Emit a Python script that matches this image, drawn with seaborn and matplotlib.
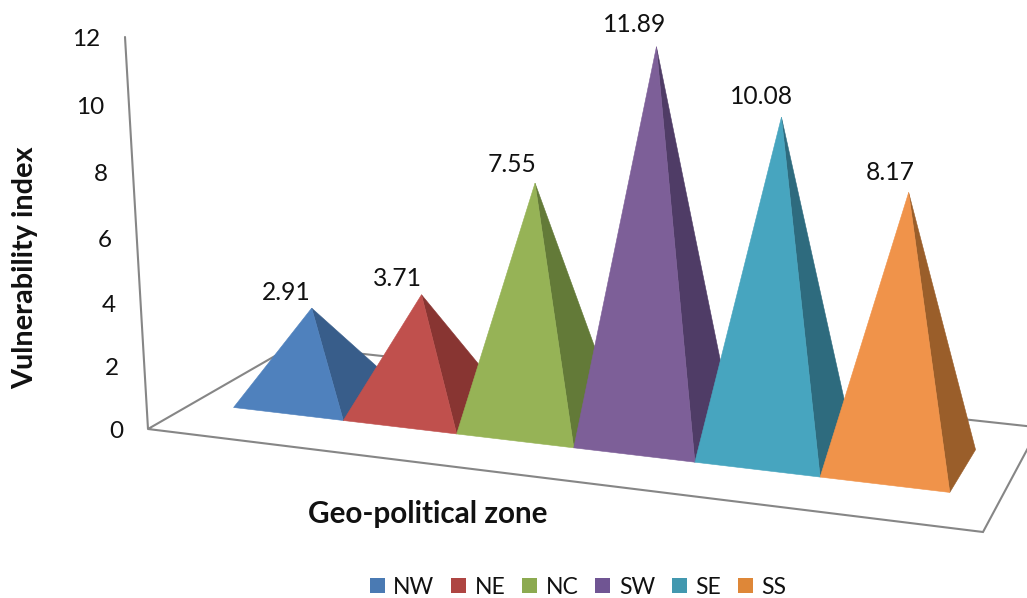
import numpy as np
import matplotlib
matplotlib.use("Agg")
import matplotlib.pyplot as plt
from matplotlib.patches import Patch, Polygon
import seaborn as sns

# Chart data
zones = ["NW", "NE", "NC", "SW", "SE", "SS"]
vulnerability = [2.91, 3.71, 7.55, 11.89, 10.08, 8.17]
y_ticks = [0, 2, 4, 6, 8, 10, 12]

# Face colours: lit front face, shaded side face, legend swatch
front_colours = ["#4F81BD", "#C0504D", "#96B356", "#7D5F98", "#47A5BF", "#F0934A"]
side_colours = ["#385D8A", "#883532", "#637A38", "#4F3C66", "#2E6B7E", "#9A5E2A"]
legend_colours = ["#4A7AB3", "#AE4542", "#8CAA50", "#705593", "#4298AF", "#DE8738"]
frame_colour = "#868686"

sns.set_theme(style="white")
plt.rcParams["font.family"] = ["Lato", "DejaVu Sans"]

# Pinhole camera for the 3D frame: world (u, d, z) with u, d in 0..1 on the
# floor and z in value units, to pixels on the 1027x598 canvas.
FLOOR_G, FLOOR_H = -0.1105, 0.1261
CAMERA_Z_W = -0.004185
VANISH_X, VANISH_Y = 583.0, 7843.0
corner_0 = np.array([148.0, 429.0])
corner_u = np.array([983.0, 532.0])
corner_d = np.array([292.0, 346.2])
camera = np.array([
    [corner_u[0] * (1 + FLOOR_G) - corner_0[0], corner_d[0] * (1 + FLOOR_H) - corner_0[0],
     VANISH_X * CAMERA_Z_W, corner_0[0]],
    [corner_u[1] * (1 + FLOOR_G) - corner_0[1], corner_d[1] * (1 + FLOOR_H) - corner_0[1],
     VANISH_Y * CAMERA_Z_W, corner_0[1]],
    [FLOOR_G, FLOOR_H, CAMERA_Z_W, 1.0],
])


def project(u, d, z=0.0):
    px, py, w = camera @ np.array([u, d, z, 1.0])
    return px / w, py / w


# Pyramid footprint layout in category units
CATEGORY_SPAN = 6.0
FIRST_EDGE = 0.33
CATEGORY_WIDTH = 0.888
DEPTH_FRONT, DEPTH_BACK = 0.292, 0.708
APEX_SHIFT = -0.0025

fig = plt.figure(figsize=(10.27, 5.98), dpi=100, facecolor="white")
ax = fig.add_axes([0, 0, 1, 1])
ax.set_xlim(0, 1027)
ax.set_ylim(598, 0)
ax.axis("off")

# Floor outline and value axis
floor = [project(0, 0), project(1, 0), project(1, 1), project(0, 1)]
ax.add_patch(Polygon(floor, closed=True, fill=False, edgecolor=frame_colour, linewidth=1.5, zorder=1, clip_on=True))
axis_top = project(0, 0, max(y_ticks))
ax.plot([floor[0][0], axis_top[0]], [floor[0][1], axis_top[1]], color=frame_colour, linewidth=1.5, zorder=1)

for tick in y_ticks:
    tx, ty = project(0, 0, tick)
    ax.text(tx - 25, ty + 2.5, str(tick), ha="right", va="center", fontsize=17.5, color="#111111")

# Pyramids, left to right so each one overlaps its neighbour's side face
for i, value in enumerate(vulnerability):
    left = (FIRST_EDGE + i * CATEGORY_WIDTH) / CATEGORY_SPAN
    right = (FIRST_EDGE + (i + 1) * CATEGORY_WIDTH) / CATEGORY_SPAN
    front_left = project(left, DEPTH_FRONT)
    front_right = project(right, DEPTH_FRONT)
    back_right = project(right, DEPTH_BACK)
    apex = project((left + right) / 2 + APEX_SHIFT, 0.5, value)
    ax.add_patch(Polygon([front_right, back_right, apex], closed=True, facecolor=side_colours[i],
                         edgecolor=side_colours[i], linewidth=0.4, zorder=2 + i))
    ax.add_patch(Polygon([front_left, front_right, apex], closed=True, facecolor=front_colours[i],
                         edgecolor=front_colours[i], linewidth=0.4, zorder=2 + i))
    # Labels sit up and to the left of the tip, drifting with position and height
    label_x = apex[0] - 23 + 0.011 * (apex[0] - 535)
    label_y = apex[1] - 13 - 0.8 * value
    ax.text(label_x, label_y, f"{value:.2f}", ha="center", va="center",
            fontsize=17.7, color="#111111", zorder=20)

ax.text(25, 268, "Vulnerability index", rotation=90, ha="center", va="center",
        fontsize=20.8, fontweight="bold", color="#111111")
ax.text(428, 514, "Geo-political zone", ha="center", va="center",
        fontsize=21.3, fontweight="bold", color="#111111")

handles = [Patch(facecolor=c, edgecolor="none", label=z) for z, c in zip(zones, legend_colours)]
ax.legend(handles=handles, loc="center", bbox_to_anchor=(578 / 1027, 1 - 587 / 598), ncol=6, frameon=False,
          fontsize=16.5, handlelength=0.66, handleheight=0.66, handletextpad=0.36, columnspacing=0.74,
          labelcolor="#111111", borderpad=0)

fig.savefig("out.png", dpi=100, facecolor="white")
